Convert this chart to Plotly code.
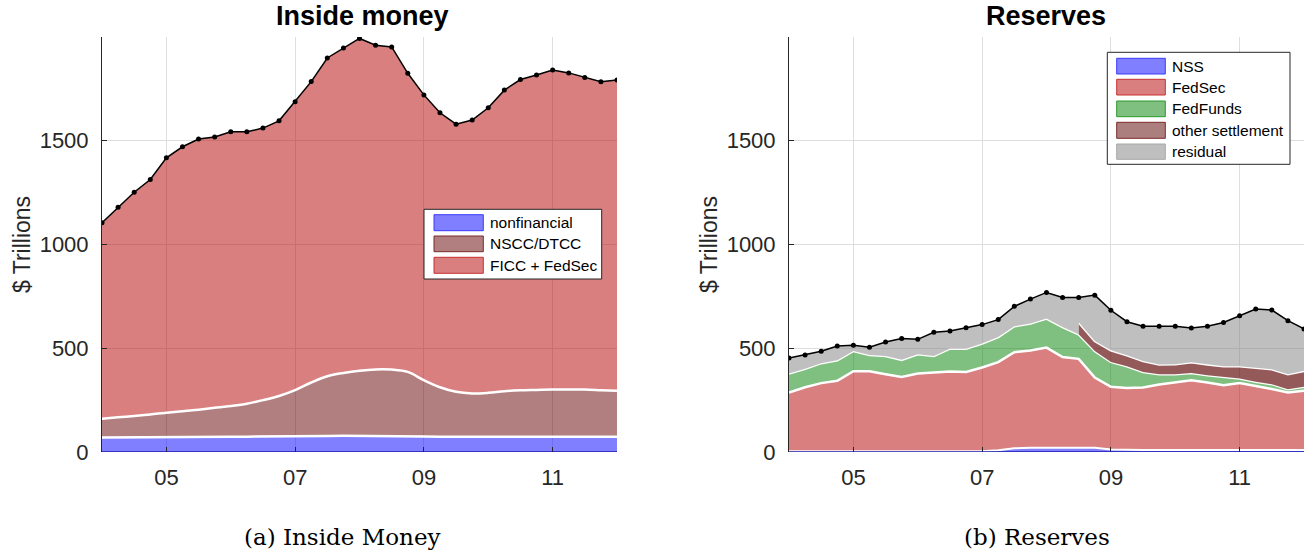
import numpy as np
import plotly.graph_objects as go

# ---------------- data ----------------
quarters = [2004.0, 2004.25, 2004.5, 2004.75, 2005.0, 2005.25, 2005.5, 2005.75,
            2006.0, 2006.25, 2006.5, 2006.75, 2007.0, 2007.25, 2007.5, 2007.75,
            2008.0, 2008.25, 2008.5, 2008.75, 2009.0, 2009.25, 2009.5, 2009.75,
            2010.0, 2010.25, 2010.5, 2010.75, 2011.0, 2011.25, 2011.5, 2011.75,
            2012.0]

# Inside money components ($ trillions)
im_nonfinancial = [70, 70, 71, 71, 72, 72, 72, 73, 73, 74, 74, 75, 75, 76, 77, 78,
                   78, 78, 77, 76, 75, 74, 74, 74, 74, 74, 74, 74, 74, 74, 74, 74, 74]
im_nscc_dtcc = [90, 97, 103, 110, 117, 124, 132, 140, 149, 159, 176, 195, 223, 259, 288, 303,
                314, 320, 320, 310, 271, 238, 216, 208, 211, 219, 223, 225, 227, 227, 227, 224, 221]
im_ficc_fedsec = [945, 1013, 1078, 1132, 1229, 1275, 1304, 1305, 1321, 1310, 1311, 1326, 1390,
                  1450, 1534, 1566, 1601, 1562, 1555, 1439, 1375, 1323, 1290, 1318, 1374, 1451,
                  1498, 1518, 1540, 1526, 1504, 1486, 1498]

# Reserves components ($ trillions)
rs_nss = [4, 4, 4, 4, 4, 4, 4, 4, 4, 4, 4, 4, 4, 8, 18, 20,
          20, 20, 20, 20, 12, 10, 10, 10, 10, 10, 10, 10, 10, 10, 10, 10, 10]
rs_fedsec = [283, 308, 328, 339, 385, 385, 371, 358, 374, 379, 384, 382, 403, 425, 463, 469,
             483, 438, 429, 339, 302, 298, 301, 315, 325, 336, 325, 312, 323, 309, 294, 277, 285]
rs_fedfunds = [91, 89, 96, 99, 98, 79, 88, 82, 93, 80, 110, 112, 116, 121, 125, 130,
               140, 144, 118, 128, 120, 105, 75, 50, 40, 35, 35, 40, 21, 19, 23, 16, 19]
rs_other = [None, None, None, None, None, None, None, None, None, None, None, None,
            None, None, None, None, None, None, 58, 48, 56, 53, 52, 47, 48, 52, 52, 51,
            59, 69, 72, 72, 77]
rs_residual = [75, 67, 58, 69, 27, 37, 67, 103, 72, 114, 85, 101, 91, 84, 96, 118,
               126, 143, 120, 221, 193, 162, 168, 184, 183, 165, 184, 211, 244, 282, 285, 258, 202]

tick_vals = [2005, 2007, 2009, 2011]
tick_text = ["05", "07", "09", "11"]
y_ticks = [0, 500, 1000, 1500]

# ---------------- styles ----------------
W, H = 1315, 552
C_BLUE = "rgba(0,0,255,0.5)"
C_BROWN = "rgba(100,0,0,0.5)"
C_RED = "rgba(180,0,0,0.5)"
C_GREEN = "rgba(0,128,0,0.5)"
C_DBROWN = "rgba(90,0,0,0.65)"
C_DBROWN_LEG = "rgba(90,0,0,0.5)"
C_GRAY = "rgba(128,128,128,0.5)"
FONT = "Liberation Sans, Arial, sans-serif"
AX = "#262626"

x = np.array(quarters)

fig = go.Figure()

# ---------------- Inside money ----------------
nf = np.array(im_nonfinancial, float)
ns_top = nf + np.array(im_nscc_dtcc, float)
tot_l = ns_top + np.array(im_ficc_fedsec, float)

fig.add_trace(go.Scatter(x=x, y=nf, mode="lines", fill="tozeroy", fillcolor=C_BLUE,
                         line=dict(color="white", width=2.5), showlegend=False,
                         xaxis="x", yaxis="y", name="nonfinancial"))
fig.add_trace(go.Scatter(x=x, y=ns_top, mode="lines", fill="tonexty", fillcolor=C_BROWN,
                         line=dict(color="white", width=2.5, shape="spline", smoothing=1),
                         showlegend=False, xaxis="x", yaxis="y", name="NSCC/DTCC"))
fig.add_trace(go.Scatter(x=x, y=tot_l, mode="lines+markers", fill="tonexty", fillcolor=C_RED,
                         line=dict(color="black", width=1.5), marker=dict(color="black", size=5),
                         showlegend=False, xaxis="x", yaxis="y", name="FICC + FedSec"))

# ---------------- Reserves ----------------
nss = np.array(rs_nss, float)
red_top = nss + np.array(rs_fedsec, float)
green_top = red_top + np.array(rs_fedfunds, float)
other = np.array([np.nan if v is None else v for v in rs_other], float)
has_other = ~np.isnan(other)
first = int(np.argmax(has_other))
brown_top = green_top[has_other] + other[has_other]
lower_res = np.where(has_other, green_top + np.nan_to_num(other), green_top)
tot_r = lower_res + np.array(rs_residual, float)

fig.add_trace(go.Scatter(x=x, y=nss, mode="lines", fill="tozeroy", fillcolor=C_BLUE,
                         line=dict(color="white", width=2), showlegend=False,
                         xaxis="x2", yaxis="y2", name="NSS"))
fig.add_trace(go.Scatter(x=x, y=red_top, mode="lines", fill="tonexty", fillcolor=C_RED,
                         line=dict(color="white", width=2.5), showlegend=False,
                         xaxis="x2", yaxis="y2", name="FedSec"))
fig.add_trace(go.Scatter(x=x, y=green_top, mode="lines", fill="tonexty", fillcolor=C_GREEN,
                         line=dict(color="white", width=2.5), showlegend=False,
                         xaxis="x2", yaxis="y2", name="FedFunds"))
# other settlement (starts mid 2008)
fig.add_trace(go.Scatter(x=x[has_other], y=green_top[has_other], mode="lines",
                         line=dict(width=0, color="rgba(0,0,0,0)"), showlegend=False,
                         hoverinfo="skip", xaxis="x2", yaxis="y2"))
fig.add_trace(go.Scatter(x=x[has_other], y=brown_top, mode="lines", fill="tonexty",
                         fillcolor=C_DBROWN, line=dict(color="white", width=2.5),
                         showlegend=False, xaxis="x2", yaxis="y2", name="other settlement"))
# residual: lower boundary steps from FedFunds top to other-settlement top
lx = np.concatenate([x[:first + 1], x[first:]])
ly = np.concatenate([green_top[:first + 1], lower_res[first:]])
fig.add_trace(go.Scatter(x=lx, y=ly, mode="lines", line=dict(width=0, color="rgba(0,0,0,0)"),
                         showlegend=False, hoverinfo="skip", xaxis="x2", yaxis="y2"))
fig.add_trace(go.Scatter(x=x, y=tot_r, mode="lines+markers", fill="tonexty", fillcolor=C_GRAY,
                         line=dict(color="black", width=1.5), marker=dict(color="black", size=5),
                         showlegend=False, xaxis="x2", yaxis="y2", name="residual"))

# ---------------- axes ----------------
def px(v):
    return v / W


def py(v):
    return 1 - v / H


axis_common = dict(showgrid=True, gridcolor="#dedede", gridwidth=1, zeroline=False,
                   ticks="inside", ticklen=5, tickcolor=AX, tickwidth=1, automargin=False,
                   tickfont=dict(family=FONT, size=22, color=AX))
xd1 = [px(102), px(617)]
xd2 = [px(789), px(1304)]
yd = [py(452), py(37)]

fig.update_layout(
    template="none",
    xaxis=dict(domain=xd1, range=[2004, 2012], tickvals=tick_vals, ticktext=tick_text,
               showline=False, anchor="y", ticklabelstandoff=10, **axis_common),
    yaxis=dict(domain=yd, range=[0, 2000], tickvals=y_ticks, showline=True, linecolor=AX,
               linewidth=1, anchor="x", ticklabelstandoff=8,
               title=dict(text="$ Trillions", font=dict(family=FONT, size=23, color=AX), standoff=2),
               **axis_common),
    xaxis2=dict(domain=xd2, range=[2004, 2012], tickvals=tick_vals, ticktext=tick_text,
                showline=False, anchor="y2", ticklabelstandoff=10, **axis_common),
    yaxis2=dict(domain=yd, range=[0, 2000], tickvals=y_ticks, showline=True, linecolor=AX,
                linewidth=1, anchor="x2", ticklabelstandoff=8,
                title=dict(text="$ Trillions", font=dict(family=FONT, size=23, color=AX), standoff=2),
                **axis_common),
    width=W, height=H, margin=dict(l=0, r=0, t=0, b=0, autoexpand=False),
    paper_bgcolor="white", plot_bgcolor="white", showlegend=False,
)

shapes = []
annotations = []

# baselines (dark blue patch edge at zero)
for xa, ya in (("x", "y"), ("x2", "y2")):
    shapes.append(dict(type="line", xref=xa, yref=ya, x0=2004, x1=2012, y0=0, y1=0,
                       line=dict(color="#1a1ab0", width=1.5), layer="above"))

# titles
annotations.append(dict(text="<b>Inside money</b>", x=px(362), y=py(16), xref="paper", yref="paper",
                        xanchor="center", yanchor="middle", showarrow=False,
                        font=dict(family=FONT, size=27, color="black")))
annotations.append(dict(text="<b>Reserves</b>", x=px(1046), y=py(16), xref="paper", yref="paper",
                        xanchor="center", yanchor="middle", showarrow=False,
                        font=dict(family=FONT, size=27, color="black")))
# captions
annotations.append(dict(text="(a) Inside Money", x=px(342), y=py(537), xref="paper", yref="paper",
                        xanchor="center", yanchor="middle", showarrow=False,
                        font=dict(family="DejaVu Serif, serif", size=23, color="black")))
annotations.append(dict(text="(b) Reserves", x=px(1037), y=py(537), xref="paper", yref="paper",
                        xanchor="center", yanchor="middle", showarrow=False,
                        font=dict(family="DejaVu Serif, serif", size=23, color="black")))


def legend(box, sw_x, text_x, rows, entries):
    shapes.append(dict(type="rect", xref="paper", yref="paper", x0=px(box[0]), x1=px(box[2]),
                       y0=py(box[3]), y1=py(box[1]), fillcolor="white",
                       line=dict(color="#262626", width=1), layer="above"))
    for (y0, y1), (label, fill, edge) in zip(rows, entries):
        shapes.append(dict(type="rect", xref="paper", yref="paper", x0=px(sw_x[0]), x1=px(sw_x[1]),
                           y0=py(y1), y1=py(y0), fillcolor=fill, line=dict(color=edge, width=1),
                           layer="above"))
        annotations.append(dict(text=label, x=px(text_x), y=py((y0 + y1) / 2), xref="paper",
                                yref="paper", xanchor="left", yanchor="middle", showarrow=False,
                                font=dict(family=FONT, size=15.5, color="black")))


legend((424, 209.3, 601.7, 279), (434, 483.3), 487.5,
       [(214.7, 230.7), (236, 251.7), (257.3, 273.3)],
       [("nonfinancial", C_BLUE, "#3a3aff"),
        ("NSCC/DTCC", C_BROWN, "#7a2a2a"),
        ("FICC + FedSec", C_RED, "#c83030")])
legend((1107.3, 52.3, 1290, 164.3), (1116.7, 1165.3), 1170,
       [(58.3, 74), (79.3, 95), (101, 116.7), (122.3, 138.3), (144, 159.3)],
       [("NSS", C_BLUE, "#3a3aff"),
        ("FedSec", C_RED, "#c83030"),
        ("FedFunds", C_GREEN, "#2a9a2a"),
        ("other settlement", C_DBROWN_LEG, "#7a2a2a"),
        ("residual", C_GRAY, "#a8a8a8")])

fig.update_layout(shapes=shapes, annotations=annotations)
fig.write_html("out.html", config={"displayModeBar": False},
               post_script="document.body.style.margin='0';document.body.style.overflow='hidden';")
